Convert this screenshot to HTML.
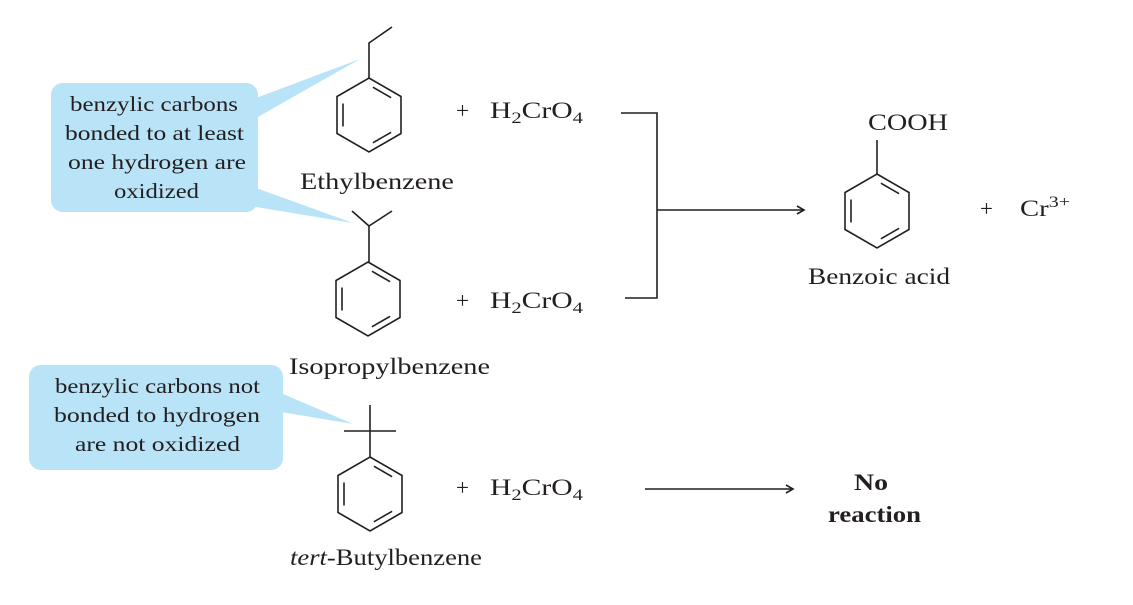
<!DOCTYPE html>
<html><head><meta charset="utf-8"><style>
html,body{margin:0;padding:0;background:#fff;}
svg{display:block;}
text{font-family:"Liberation Serif",serif;fill:#231f20;}
</style></head><body>
<svg width="1133" height="605" viewBox="0 0 1133 605" xmlns="http://www.w3.org/2000/svg">
<defs>
<g id="bz" fill="none" stroke="#231f20" stroke-width="1.6">
<polygon points="0,-37 32,-18.5 32,18.5 0,37 -32,18.5 -32,-18.5"/>
<line x1="3.9" y1="-27.8" x2="22.1" y2="-17.3"/>
<line x1="-26" y1="-11.5" x2="-26" y2="11.5"/>
<line x1="22.1" y1="17.3" x2="3.9" y2="27.8"/>
</g>
</defs>
<g fill="#b9e3f7">
<rect x="51" y="83" width="207" height="129" rx="12"/>
<polygon points="256,98 360,59 256,118"/>
<polygon points="256,188 353,223 256,207"/>
<rect x="29" y="365" width="254" height="105" rx="12"/>
<polygon points="281,393 353,424 281,412"/>
</g>
<g font-size="21" lengthAdjust="spacingAndGlyphs">
<text x="70" y="111" textLength="168" lengthAdjust="spacingAndGlyphs">benzylic carbons</text>
<text x="65" y="140" textLength="179" lengthAdjust="spacingAndGlyphs">bonded to at least</text>
<text x="68" y="169" textLength="178" lengthAdjust="spacingAndGlyphs">one hydrogen are</text>
<text x="114" y="198" textLength="85" lengthAdjust="spacingAndGlyphs">oxidized</text>
<text x="55" y="393" textLength="205" lengthAdjust="spacingAndGlyphs">benzylic carbons not</text>
<text x="54" y="422" textLength="206" lengthAdjust="spacingAndGlyphs">bonded to hydrogen</text>
<text x="75" y="451" textLength="165" lengthAdjust="spacingAndGlyphs">are not oxidized</text>
</g>
<use href="#bz" x="369" y="115"/>
<use href="#bz" x="368" y="299"/>
<use href="#bz" x="370" y="494"/>
<use href="#bz" x="877" y="211"/>
<g stroke="#231f20" stroke-width="1.6" fill="none">
<polyline points="369,78 369,43 392,27"/>
<polyline points="352,211 369,226 369,262"/>
<line x1="369" y1="226" x2="392" y2="211"/>
<line x1="370" y1="405" x2="370" y2="457"/>
<line x1="344" y1="431" x2="396" y2="431"/>
<line x1="877" y1="174" x2="877" y2="140"/>
<polyline points="621,113 657,113 657,298 625,298"/>
<line x1="657" y1="210" x2="803" y2="210"/>
<polyline points="797,206 804,210 797,214"/>
<line x1="645" y1="489" x2="792" y2="489"/>
<polyline points="786,485 793,489 786,493"/>
</g>
<g font-size="23">
<text x="300" y="189" textLength="154" lengthAdjust="spacingAndGlyphs">Ethylbenzene</text>
<text x="289" y="374" textLength="201" lengthAdjust="spacingAndGlyphs">Isopropylbenzene</text>
<text x="290" y="565" textLength="192" lengthAdjust="spacingAndGlyphs"><tspan font-style="italic">tert</tspan>-Butylbenzene</text>
<text x="808" y="284" textLength="142" lengthAdjust="spacingAndGlyphs">Benzoic acid</text>
<text x="868" y="130" textLength="80" lengthAdjust="spacingAndGlyphs">COOH</text>
<text x="456" y="118">+</text>
<text x="490" y="118" textLength="93" lengthAdjust="spacingAndGlyphs">H<tspan font-size="16" dy="5">2</tspan><tspan dy="-5">CrO</tspan><tspan font-size="16" dy="5">4</tspan></text>
<text x="456" y="308">+</text>
<text x="490" y="308" textLength="93" lengthAdjust="spacingAndGlyphs">H<tspan font-size="16" dy="5">2</tspan><tspan dy="-5">CrO</tspan><tspan font-size="16" dy="5">4</tspan></text>
<text x="456" y="495">+</text>
<text x="490" y="495" textLength="93" lengthAdjust="spacingAndGlyphs">H<tspan font-size="16" dy="5">2</tspan><tspan dy="-5">CrO</tspan><tspan font-size="16" dy="5">4</tspan></text>
<text x="980" y="216">+</text>
<text x="1020" y="216" textLength="50" lengthAdjust="spacingAndGlyphs">Cr<tspan font-size="16" dy="-9">3+</tspan></text>
<text x="854" y="490" font-weight="bold" textLength="34" lengthAdjust="spacingAndGlyphs">No</text>
<text x="828" y="522" font-weight="bold" textLength="93" lengthAdjust="spacingAndGlyphs">reaction</text>
</g>
</svg>
</body></html>
